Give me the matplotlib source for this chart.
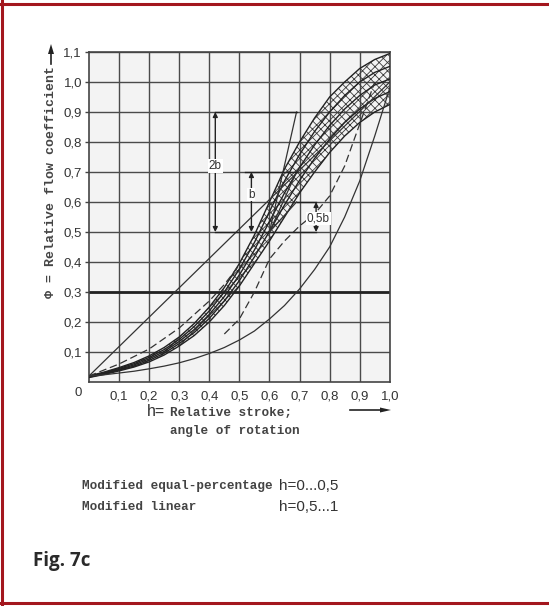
import matplotlib.pyplot as plt
from matplotlib import font_manager
from matplotlib.lines import Line2D

# --- axis ticks ---
x_ticks = [0.1, 0.2, 0.3, 0.4, 0.5, 0.6, 0.7, 0.8, 0.9, 1.0]
x_tick_labels = ["0,1", "0,2", "0,3", "0,4", "0,5", "0,6", "0,7", "0,8", "0,9", "1,0"]
y_ticks = [0.1, 0.2, 0.3, 0.4, 0.5, 0.6, 0.7, 0.8, 0.9, 1.0, 1.1]
y_tick_labels = ["0,1", "0,2", "0,3", "0,4", "0,5", "0,6", "0,7", "0,8", "0,9", "1,0", "1,1"]

# --- curves (h, phi) ---
h_pts = [0.0, 0.05, 0.1, 0.15, 0.2, 0.25, 0.3, 0.35, 0.4, 0.45, 0.5,
         0.55, 0.6, 0.65, 0.7, 0.75, 0.8, 0.85, 0.9, 0.95, 1.0]
band_upper = [0.02, 0.033, 0.048, 0.065, 0.087, 0.115, 0.15, 0.195, 0.25, 0.315, 0.395,
              0.49, 0.6, 0.71, 0.8, 0.88, 0.95, 1.0, 1.045, 1.075, 1.095]
band_mid_a = [0.019, 0.031, 0.045, 0.061, 0.082, 0.108, 0.142, 0.185, 0.237, 0.3, 0.376,
              0.465, 0.568, 0.67, 0.758, 0.835, 0.9, 0.955, 1.0, 1.032, 1.052]
nominal = [0.018, 0.029, 0.042, 0.057, 0.077, 0.102, 0.135, 0.175, 0.225, 0.285, 0.357,
           0.44, 0.535, 0.63, 0.715, 0.79, 0.855, 0.91, 0.955, 0.99, 1.01]
band_mid_b = [0.016, 0.027, 0.04, 0.053, 0.072, 0.096, 0.128, 0.165, 0.212, 0.27, 0.338,
              0.417, 0.502, 0.59, 0.672, 0.745, 0.81, 0.865, 0.91, 0.945, 0.968]
band_lower = [0.015, 0.025, 0.037, 0.05, 0.067, 0.09, 0.12, 0.155, 0.2, 0.255, 0.32,
              0.395, 0.47, 0.55, 0.63, 0.7, 0.765, 0.82, 0.865, 0.9, 0.925]
equal_pct = [0.02, 0.024, 0.03, 0.036, 0.044, 0.053, 0.064, 0.078, 0.095, 0.115, 0.14,
             0.17, 0.21, 0.255, 0.31, 0.375, 0.45, 0.55, 0.67, 0.82, 0.98]

lin_h = [0.0, 1.0]
lin_phi = [0.02, 1.0]

dash_up_h = [0.0, 0.1, 0.2, 0.3, 0.4, 0.45, 0.5]
dash_up_phi = [0.02, 0.06, 0.11, 0.18, 0.27, 0.325, 0.39]
dash_lo_h = [0.45, 0.5, 0.55, 0.6, 0.65, 0.7, 0.75, 0.8, 0.85, 0.9, 0.95]
dash_lo_phi = [0.16, 0.21, 0.3, 0.41, 0.47, 0.52, 0.56, 0.62, 0.72, 0.86, 1.0]

# slope markers: common base point and end points
slope_base = (0.6, 0.5)
slope_ends_h = [0.69, 0.69, 0.69]
slope_ends_phi = [0.9, 0.7, 0.6]

installed = {f.name for f in font_manager.fontManager.ttflist}
tick_font = "Liberation Sans Narrow" if "Liberation Sans Narrow" in installed else "Liberation Sans"
tick_size = 10.5 if tick_font == "Liberation Sans Narrow" else 9.5

plt.rcParams["hatch.linewidth"] = 0.6

fig = plt.figure(figsize=(5.49, 6.06), dpi=100)
ax = fig.add_axes([0.162, 0.3696, 0.548, 0.5446])
ax.set_facecolor("#f3f3f3")

ax.set_xlim(0, 1.0)
ax.set_ylim(0, 1.1)
ax.set_xticks(x_ticks)
ax.set_xticklabels(x_tick_labels)
ax.set_yticks(y_ticks)
ax.set_yticklabels(y_tick_labels)
ax.tick_params(axis="x", length=0, pad=6, labelsize=tick_size, labelcolor="#333333")
ax.tick_params(axis="y", length=3, width=1, color="#444444", pad=2,
               labelsize=tick_size, labelcolor="#333333")
for lab in ax.get_xticklabels() + ax.get_yticklabels():
    lab.set_family(tick_font)

ax.grid(True, color="#4a4a4a", linewidth=1.0)
ax.set_axisbelow(True)
ax.axhline(0.3, color="#222222", linewidth=2.0, zorder=1)
for s in ax.spines.values():
    s.set_color("#444444")
    s.set_linewidth(1.2)

# tolerance band
ax.fill_between(h_pts, band_lower, band_upper, facecolor="none",
                edgecolor="#3a3a3a", hatch="xxxx", linewidth=0, zorder=2)
for band_line in (band_upper, band_mid_a, nominal, band_mid_b, band_lower):
    ax.plot(h_pts, band_line, color="#222222", linewidth=1.0, zorder=3)

# characteristic lines
ax.plot(lin_h, lin_phi, color="#333333", linewidth=0.9, zorder=3)
ax.plot(h_pts, equal_pct, color="#333333", linewidth=0.9, zorder=3)
ax.plot(dash_up_h, dash_up_phi, color="#333333", linewidth=0.9,
        linestyle=(0, (6, 3)), zorder=3)
ax.plot(dash_lo_h, dash_lo_phi, color="#333333", linewidth=0.9,
        linestyle=(0, (6, 3)), zorder=3)

# slope lines
for eh, ep in zip(slope_ends_h, slope_ends_phi):
    ax.plot([slope_base[0], eh], [slope_base[1], ep], color="#333333",
            linewidth=0.9, zorder=3)

# dimension lines 2b / b / 0,5b
dim_c = "#222222"
ax.plot([0.42, 0.69], [0.9, 0.9], color=dim_c, linewidth=1.0, zorder=3)
ax.plot([0.52, 0.69], [0.7, 0.7], color=dim_c, linewidth=1.0, zorder=3)
ax.plot([0.69, 0.755], [0.6, 0.6], color=dim_c, linewidth=1.0, zorder=3)
ax.plot([0.42, 0.755], [0.5, 0.5], color=dim_c, linewidth=1.0, zorder=3)
arr = dict(arrowstyle="<|-|>", color=dim_c, lw=1.0, mutation_scale=7,
           shrinkA=0, shrinkB=0)
ax.annotate("", xy=(0.42, 0.9), xytext=(0.42, 0.5), arrowprops=arr, zorder=4)
ax.annotate("", xy=(0.54, 0.7), xytext=(0.54, 0.5), arrowprops=arr, zorder=4)
ax.annotate("", xy=(0.755, 0.6), xytext=(0.755, 0.5), arrowprops=arr, zorder=4)
lbl = dict(fontsize=8.5, family=tick_font, color="#333333", ha="center",
           va="center", zorder=5,
           bbox=dict(facecolor="white", edgecolor="none", pad=0.6))
ax.text(0.42, 0.72, "2b", **lbl)
ax.text(0.54, 0.625, "b", **lbl)
ax.text(0.762, 0.545, "0,5b", **lbl)

# origin label shared by both axes
fig.text(78 / 549, 1 - 393 / 606, "0", fontsize=tick_size, family=tick_font,
         color="#333333", ha="center", va="center")

# y-axis caption with upward arrow
fig.text(51 / 549, 1 - 182 / 606, "\u03a6 = Relative flow coefficient",
         rotation=90, fontsize=9.5, family="Liberation Mono", weight="bold",
         color="#444444", ha="center", va="center")
fig.add_artist(Line2D([51 / 549, 51 / 549], [1 - 64 / 606, 1 - 52 / 606],
                      color="#222222", linewidth=1.2))
fig.patches.append(plt.Polygon([[48 / 549, 1 - 54 / 606], [54 / 549, 1 - 54 / 606],
                                [51 / 549, 1 - 44 / 606]], closed=True,
                               facecolor="#222222", edgecolor="none",
                               transform=fig.transFigure, figure=fig))

# x-axis caption
fig.text(147 / 549, 1 - 412 / 606, "h=", fontsize=11.5, family=tick_font,
         color="#333333", ha="left", va="center")
fig.text(170 / 549, 1 - 412 / 606, "Relative stroke;", fontsize=9.1,
         family="Liberation Mono", weight="bold", color="#444444",
         ha="left", va="center")
fig.text(170 / 549, 1 - 431 / 606, "angle of rotation", fontsize=9.1,
         family="Liberation Mono", weight="bold", color="#444444",
         ha="left", va="center")
fig.add_artist(Line2D([350 / 549, 382 / 549], [1 - 410 / 606, 1 - 410 / 606],
                      color="#222222", linewidth=1.2))
fig.patches.append(plt.Polygon([[380 / 549, 1 - 407.5 / 606], [380 / 549, 1 - 412.5 / 606],
                                [391 / 549, 1 - 410 / 606]], closed=True,
                               facecolor="#222222", edgecolor="none",
                               transform=fig.transFigure, figure=fig))

# legend lines below chart
fig.text(82 / 549, 1 - 486 / 606, "Modified equal-percentage", fontsize=9.1,
         family="Liberation Mono", weight="bold", color="#444444",
         ha="left", va="center")
fig.text(82 / 549, 1 - 507 / 606, "Modified linear", fontsize=9.1,
         family="Liberation Mono", weight="bold", color="#444444",
         ha="left", va="center")
fig.text(279 / 549, 1 - 486 / 606, "h=0...0,5", fontsize=11,
         family=tick_font, color="#333333", ha="left", va="center")
fig.text(279 / 549, 1 - 507 / 606, "h=0,5...1", fontsize=11,
         family=tick_font, color="#333333", ha="left", va="center")

fig.text(33 / 549, 1 - 561 / 606, "Fig. 7c", fontsize=13.5, family="Open Sans",
         weight="bold", color="#2a2a2a", ha="left", va="center")

# red frame (top, left, bottom)
red = "#a3161d"
fig.add_artist(Line2D([0, 1], [1 - 3.5 / 606, 1 - 3.5 / 606], color=red, linewidth=2.2))
fig.add_artist(Line2D([0, 1], [1 - 603 / 606, 1 - 603 / 606], color=red, linewidth=2.2))
fig.add_artist(Line2D([2 / 549, 2 / 549], [0, 1], color=red, linewidth=2.2))

fig.savefig("out.png", dpi=100)
